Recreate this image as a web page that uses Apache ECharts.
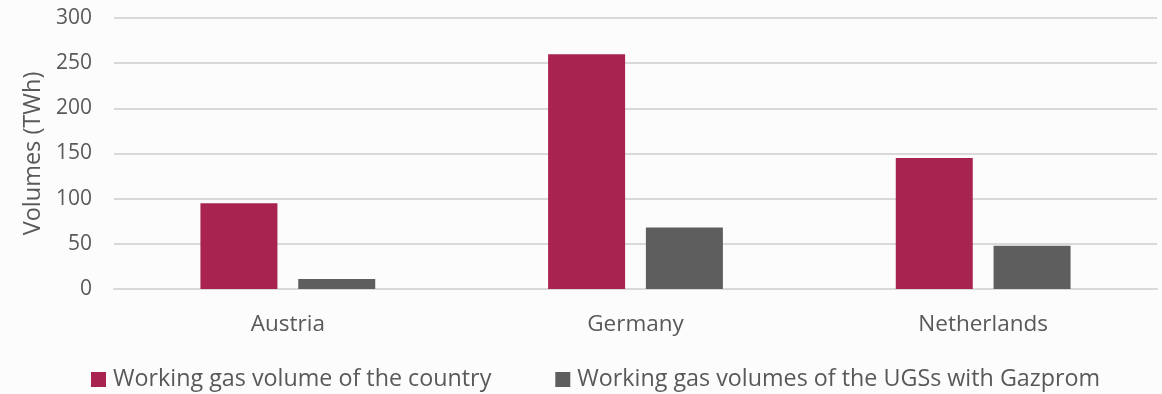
<!DOCTYPE html>
<html>
<head>
<meta charset="utf-8">
<script src="https://cdn.jsdelivr.net/npm/echarts@6/dist/echarts.min.js"></script>
<style>
  html, body { margin: 0; padding: 0; background: #fcfcfc; }
  #chart { width: 1162px; height: 394px; }
</style>
</head>
<body>
<div id="chart"></div>
<script>
const categories = ['Austria', 'Germany', 'Netherlands'];
const countryVolumes = [95, 260, 145];
const gazpromVolumes = [11, 68, 48];
const seriesNames = ['Working gas volume of the country', 'Working gas volumes of the UGSs with Gazprom'];
const yAxisTitle = 'Volumes (TWh)';

const FONT = '"Open Sans", sans-serif';
const TEXT = '#595959';

const chart = echarts.init(document.getElementById('chart'), null, { renderer: 'canvas' });
chart.setOption({
  backgroundColor: '#fcfcfc',
  animation: false,
  textStyle: { fontFamily: FONT },
  grid: { left: 114, right: 5, top: 18, bottom: 105, containLabel: false },
  legend: {
    bottom: -2,
    left: 86,
    itemWidth: 15,
    itemHeight: 15,
    itemGap: 64,
    icon: 'rect',
    textStyle: { fontFamily: FONT, fontSize: 23.3, color: TEXT, padding: [0, 0, 0, 2] },
    data: seriesNames
  },
  xAxis: {
    type: 'category',
    data: categories,
    axisLine: { show: true, lineStyle: { color: '#d9d9d9', width: 2 } },
    axisTick: { show: false },
    axisLabel: { fontFamily: FONT, fontSize: 22.5, color: TEXT, margin: 24 }
  },
  yAxis: {
    type: 'value',
    min: 0,
    max: 300,
    interval: 50,
    name: yAxisTitle,
    nameLocation: 'middle',
    nameGap: 62,
    nameTextStyle: { fontFamily: FONT, fontSize: 23.5, color: TEXT },
    axisLine: { show: false },
    axisTick: { show: false },
    axisLabel: { fontFamily: FONT, fontSize: 21, color: TEXT, margin: 22 },
    splitLine: { lineStyle: { color: '#d9d9d9', width: 2 } }
  },
  series: [
    {
      name: seriesNames[0],
      type: 'bar',
      data: countryVolumes,
      barWidth: 77,
      barGap: '27%',
      itemStyle: { color: '#a82350' }
    },
    {
      name: seriesNames[1],
      type: 'bar',
      data: gazpromVolumes,
      barWidth: 77,
      itemStyle: { color: '#5e5e5e' }
    }
  ]
});
</script>
</body>
</html>
